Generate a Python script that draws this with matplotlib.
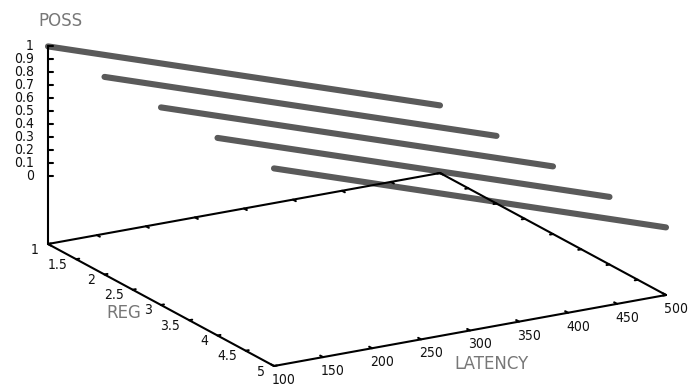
import numpy as np
import matplotlib.pyplot as plt

# data
latency = [100, 500]
reg_levels = [1, 2, 3, 4, 5]
poss_reg1 = [1.0, 0.0]
poss_reg2 = [1.0, 0.0]
poss_reg3 = [1.0, 0.0]
poss_reg4 = [1.0, 0.0]
poss_reg5 = [1.0, 0.0]
poss_series = [poss_reg1, poss_reg2, poss_reg3, poss_reg4, poss_reg5]

lat_ticks = [100, 150, 200, 250, 300, 350, 400, 450, 500]
reg_ticks = [1, 1.5, 2, 2.5, 3, 3.5, 4, 4.5, 5]
z_ticks = [0, 0.1, 0.2, 0.3, 0.4, 0.5, 0.6, 0.7, 0.8, 0.9, 1]

lat_min, lat_max = 100, 500
reg_min, reg_max = 1, 5
z_min, z_max = 0, 1

# view (gnuplot-like projection, in pixels)
origin = (48.0, 244.0)     # lat=100, reg=1 on the base plane
vx = (392.0, -71.0)        # full latency range
vy = (226.0, 122.0)        # full reg range
zscale = 130.0             # pixels per unit of POSS
ticslevel = 0.52


def proj(lat, reg, z):
    u = (np.asarray(lat, float) - lat_min) / (lat_max - lat_min)
    v = (np.asarray(reg, float) - reg_min) / (reg_max - reg_min)
    w = (np.asarray(z, float) - z_min) / (z_max - z_min) + ticslevel
    x = origin[0] + u * vx[0] + v * vy[0]
    y = origin[1] + u * vx[1] + v * vy[1] - w * zscale
    return x, y


zbase = z_min - ticslevel * (z_max - z_min)

fig = plt.figure(figsize=(6.88, 3.87), dpi=100)
ax = fig.add_axes([0, 0, 1, 1])
ax.set_xlim(0, 688)
ax.set_ylim(387, 0)
ax.axis('off')

tick_font = dict(family='DejaVu Sans', fontstretch='condensed', fontsize=10, color='#111111')
label_font = dict(family='DejaVu Sans', fontsize=12, color='#777777')
axis_kw = dict(color='black', lw=1.5, zorder=3, solid_capstyle='round')

# data lines
for reg, poss in zip(reg_levels, poss_series):
    x, y = proj(latency, [reg] * len(latency), poss)
    ax.plot(x, y, color='#5a5a5a', lw=4.4, solid_capstyle='round', zorder=2)

# base box
for la, ra in [([lat_min, lat_max], [reg_min, reg_min]),
               ([lat_max, lat_max], [reg_min, reg_max]),
               ([lat_min, lat_max], [reg_max, reg_max]),
               ([lat_min, lat_min], [reg_min, reg_max])]:
    x, y = proj(la, ra, [zbase, zbase])
    ax.plot(x, y, **axis_kw)

# z axis
x, y = proj([lat_min, lat_min], [reg_min, reg_min], [zbase, z_max])
ax.plot(x, y, **axis_kw)

tl_lat = 3.0
tl_reg = 0.05
tl_zpx = 5.0

# z ticks
for t in z_ticks:
    x, y = proj(lat_min, reg_min, t)
    ax.plot([x, x + tl_zpx], [y, y], **axis_kw)
    ax.text(x - 14, y, f'{t:g}', ha='right', va='center', **tick_font)

# reg ticks (left edge) and mirror (right edge)
for t in reg_ticks:
    x0, y0 = proj(lat_min, t, zbase)
    x1, y1 = proj(lat_min + tl_lat, t, zbase)
    ax.plot([x0, x1], [y0, y1], **axis_kw)
    x0, y0 = proj(lat_max, t, zbase)
    x1, y1 = proj(lat_max - tl_lat, t, zbase)
    ax.plot([x0, x1], [y0, y1], **axis_kw)
    xl, yl = proj(lat_min, t, zbase)
    ax.text(xl - 9, yl + 5.5, f'{t:g}', ha='right', va='center', **tick_font)

# latency ticks (front edge) and mirror (back edge)
for t in lat_ticks:
    x0, y0 = proj(t, reg_max, zbase)
    x1, y1 = proj(t, reg_max - tl_reg, zbase)
    ax.plot([x0, x1], [y0, y1], **axis_kw)
    x0, y0 = proj(t, reg_min, zbase)
    x1, y1 = proj(t, reg_min + tl_reg, zbase)
    ax.plot([x0, x1], [y0, y1], **axis_kw)
    xl, yl = proj(t, reg_max, zbase)
    ax.text(xl + 10, yl + 14, f'{t:g}', ha='center', va='center', **tick_font)

# axis titles
x, y = proj(lat_min, reg_min, z_max)
ax.text(x + 12, y - 25, 'POSS', ha='center', va='center', **label_font)
x, y = proj(lat_min, (reg_min + reg_max) / 2, zbase)
ax.text(x - 37, y + 8, 'REG', ha='center', va='center', **label_font)
x, y = proj((lat_min + lat_max) / 2, reg_max, zbase)
ax.text(x + 22, y + 33.5, 'LATENCY', ha='center', va='center', **label_font)

fig.savefig('out.png', dpi=100)
